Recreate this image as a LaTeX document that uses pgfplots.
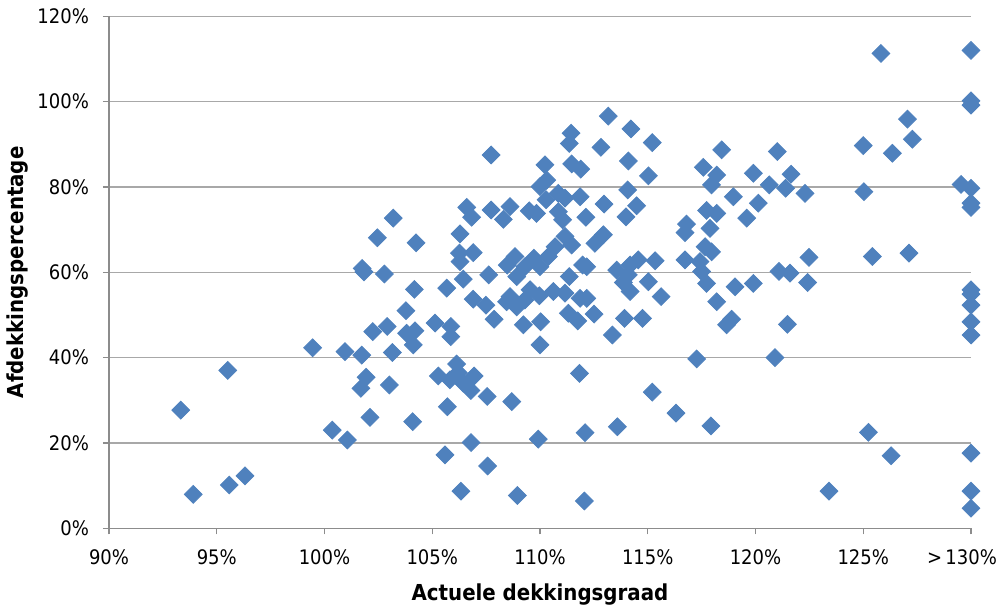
\documentclass[border=0pt]{standalone}
\usepackage{fontspec}
\setmainfont{DejaVu Sans Condensed}
\usepackage{pgfplots}
\pgfplotsset{compat=1.18}
\definecolor{pt}{RGB}{79,129,189}
\definecolor{gridc}{RGB}{168,168,168}
\definecolor{axc}{RGB}{140,140,140}

\begin{document}
\begin{tikzpicture}
\path[use as bounding box] (-54.5pt,-40.85pt) rectangle (445.5pt,264.15pt);
\begin{axis}[
  scale only axis,
  width=431pt, height=256pt,
  xmin=90, xmax=130, ymin=0, ymax=120,
  axis x line=bottom, axis y line=left,
  axis line style={-, axc, line width=0.7pt},
  tick align=outside, tick style={axc, line width=0.7pt},
  major tick length=3pt,
  xtick={90,95,...,130},
  xticklabels={90\%,95\%,100\%,105\%,110\%,115\%,120\%,125\%,\hspace*{-9pt}>\,130\%},
  ytick={0,20,...,120},
  yticklabels={0\%,20\%,40\%,60\%,80\%,100\%,120\%},
  ymajorgrids, major grid style={gridc, line width=0.7pt},
  tick label style={font=\fontsize{10}{11}\selectfont, black},
  xticklabel style={yshift=-4pt},
  yticklabel style={xshift=-3.5pt},
  xlabel={Actuele dekkingsgraad},
  ylabel={Afdekkingspercentage},
  label style={font=\fontsize{11}{12}\selectfont\bfseries},
  xlabel style={at={(axis description cs:0.5,-0.1285)}, anchor=center},
  ylabel style={at={(axis description cs:-0.1056,0.5)}, anchor=center},
  clip=false,
]
\addplot[only marks, mark=square*, mark size=3.15pt, color=pt,
  mark options={rotate=45, fill=pt, draw=pt}] coordinates {
(99.45,42.3) (95.51,37.0) (93.33,27.7) (100.36,23.0) (96.31,12.3) (95.58,10.15) (93.91,7.97)
(103.19,72.7) (102.45,68.1) (104.25,66.9) (106.6,75.2) (106.83,72.9) (107.73,74.6)
(108.61,75.4) (108.3,72.4) (109.5,74.4) (109.84,73.8) (106.29,69.0) (106.26,64.5)
(106.9,64.6) (106.29,62.5) (101.75,60.9) (101.83,60.1) (102.78,59.6) (106.44,58.4)
(107.62,59.4) (108.48,61.7) (108.84,63.7) (109.30,61.3) (109.72,63.3) (110.0,61.3)
(108.92,59.0) (104.17,56.0) (105.67,56.3) (106.9,53.7) (107.49,52.3) (107.87,49.0)
(108.61,54.3) (108.45,53.1) (108.92,51.9) (109.54,55.9) (109.30,53.5) (109.97,54.5)
(109.23,47.7) (110.03,48.4) (110.0,43.0) (103.78,51.0) (102.91,47.3) (102.24,46.1)
(103.81,45.7) (104.2,46.3) (104.12,43.0) (105.13,48.1) (105.86,47.3) (105.86,44.9)
(100.95,41.4) (101.73,40.6) (103.15,41.2) (107.73,87.5)
(113.17,96.6) (111.44,92.6) (111.36,90.2) (114.22,93.6) (115.21,90.4) (112.83,89.3)
(118.43,88.7) (110.23,85.2) (111.47,85.4) (111.89,84.2) (114.1,86.1) (117.58,84.6)
(118.2,82.8) (119.9,83.2) (110.31,81.6) (115.03,82.6) (117.96,80.5) (110.0,80.1)
(110.85,78.5) (110.28,77.0) (111.16,77.4) (111.86,77.7) (114.07,79.3) (112.97,76.0)
(114.48,75.6) (113.99,73.0) (118.97,77.7) (119.59,72.7) (117.73,74.5) (118.2,73.8)
(120.13,76.2) (110.85,74.2) (111.05,72.3) (112.13,72.9) (116.8,71.3) (116.73,69.3)
(117.89,70.3) (111.16,68.4) (111.47,66.4) (112.94,68.8) (112.55,66.8) (110.70,66.0)
(110.39,63.7) (117.66,66.0) (117.96,64.8) (116.73,62.9) (117.42,62.5) (117.5,60.2)
(112.17,61.3) (111.98,61.7) (113.56,60.5) (114.18,61.7) (114.56,62.9) (115.34,62.7)
(114.1,59.4) (111.36,59.0) (113.87,57.6) (115.03,57.8) (117.73,57.4) (119.05,56.6)
(119.9,57.4)
(110.62,55.5) (111.16,55.1) (111.86,53.9) (112.17,53.9) (114.18,55.5) (115.62,54.3)
(118.2,53.1) (111.32,50.4) (111.75,48.6) (112.51,50.2) (113.92,49.2) (114.76,49.2)
(113.36,45.3) (118.66,47.7) (118.89,49.0) (117.27,39.7) (111.83,36.3) (115.21,31.9)
(116.31,27.0) (117.93,24.0) (112.09,22.4) (113.59,23.8) (112.06,6.4)
(101.93,35.4) (101.69,32.8) (103.01,33.6) (105.28,35.7) (106.13,38.5) (106.21,36.5)
(105.82,34.8) (106.44,34.0) (106.94,35.7) (106.79,32.3) (107.55,30.9) (108.69,29.7)
(105.7,28.5) (102.11,26.0) (104.09,25.0) (101.06,20.7) (106.8,20.1) (109.92,20.9)
(105.59,17.2) (107.57,14.6) (106.33,8.7) (108.95,7.7)
(125.82,111.3) (130,112.0) (130,100.2) (130,99.2) (127.05,95.9) (127.28,91.2)
(125.0,89.7) (126.35,87.9) (121.01,88.3) (121.65,83.0) (120.64,80.5) (121.40,79.7)
(122.3,78.5) (125.03,78.9) (129.54,80.6) (130,79.7) (130,76.2) (130,75.2)
(122.48,63.5) (125.42,63.7) (127.12,64.5) (121.09,60.2) (121.6,59.8)
(122.42,57.6) (130,55.9) (130,54.9) (130,52.3) (130,48.4) (130,45.3) (121.48,47.8)
(120.90,40.0) (125.24,22.5) (126.29,17.0) (130,17.6) (123.41,8.7) (130,8.7) (130,4.7)
};
\end{axis}
\end{tikzpicture}
\end{document}
